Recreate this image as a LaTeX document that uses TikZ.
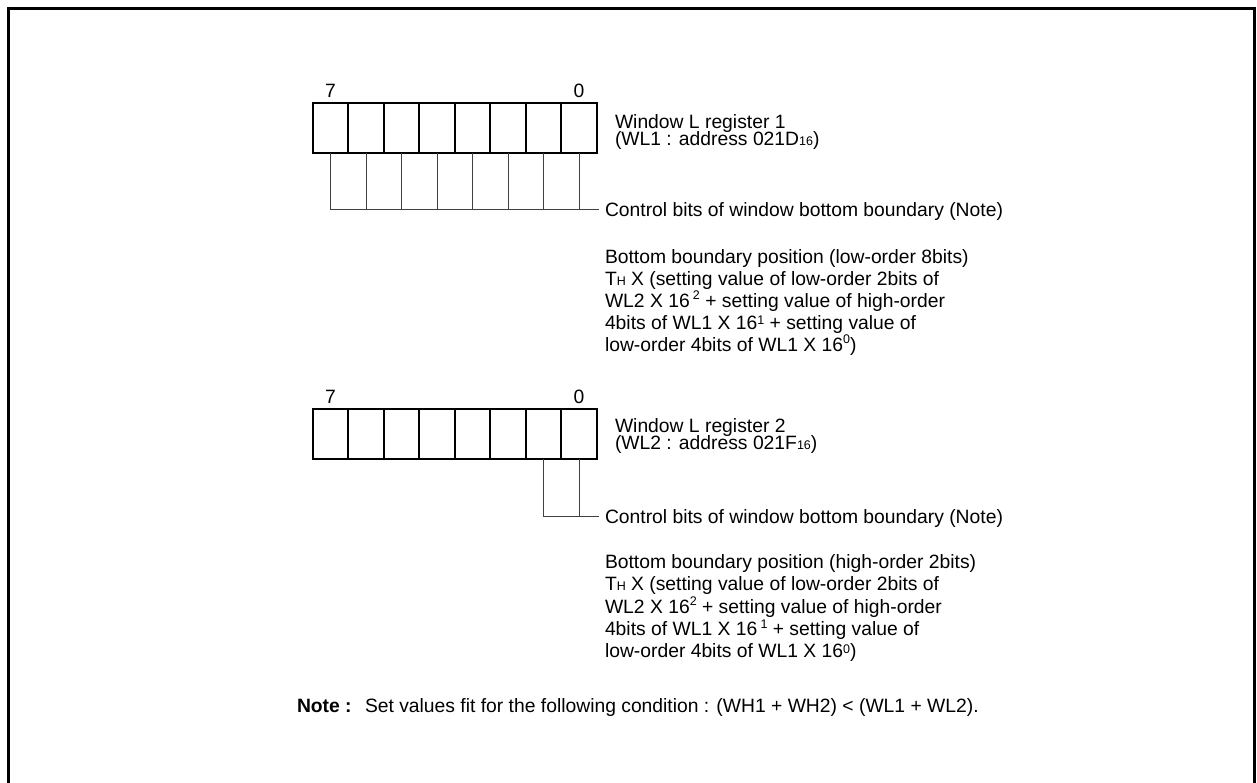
\documentclass[tikz,border=0pt]{standalone}
\usepackage{fontspec}
\setmainfont{Liberation Sans}
\newcommand\smtxt[1]{{\fontsize{12.5}{13}\selectfont #1}}
\newcommand\hisup[1]{\raisebox{7.5pt}{\smtxt{#1}}}
\newcommand\losup[1]{\raisebox{4.5pt}{\smtxt{#1}}}
\newcommand\Thsub{T\smtxt{H}}
\newcommand\mulx{X}
\begin{document}
\begin{tikzpicture}[x=1pt,y=-1pt,
  txt/.style={inner sep=0pt, outer sep=0pt, anchor=base west, font=\fontsize{19.3}{22}\selectfont},
  bitlbl/.style={txt, anchor=base},
  cell/.style={draw, line width=2pt, minimum width=35.5pt, minimum height=50pt, inner sep=0pt, outer sep=0pt},
  lead/.style={line width=0.9pt, draw=black!75},
  frame/.style={line width=3pt}]
\useasboundingbox (0,0) rectangle (1257,782);
% frame (open at bottom)
\draw[frame] (8,800) -- (8,8) -- (1254,8) -- (1254,800);

% ---- register 1 ----
\foreach \i in {0,...,7}
  \node[cell] (ra\i) at ({330.45+35.5*\i},128) {};
\node[bitlbl] (ra7lbl) at (ra0.north |- 0,97.5) {7};
\node[bitlbl] (ra0lbl) at (ra7.north |- 0,97.5) {0};
\node[txt] (wl1a) at (615,128.3) {Window L register 1};
\node[txt] (wl1b) at (615,145.3) {(WL1 : address 021D\smtxt{16})};
\coordinate (ca) at (599,209.5);
\foreach \i in {0,...,7}
  \draw[lead] (ra\i.south) -- (ra\i.south |- ca);
\draw[lead] (ra0.south |- ca) -- (ca);
\node[txt] (ctla) at (605,216.5) {Control bits of window bottom boundary (Note)};

\node[txt] (b1l1) at (605,263.3) {Bottom boundary position (low-order 8bits)};
\node[txt] (b1l2) at (605,285.3) {\Thsub\ \mulx\ (setting value of low-order 2bits of};
\node[txt] (b1l3) at (605,307.3) {WL2 \mulx\ 16\,\hisup{2} + setting value of high-order};
\node[txt] (b1l4) at (605,329.3) {4bits of WL1 \mulx\ 16\losup{1} + setting value of};
\node[txt] (b1l5) at (605,351.3) {low-order 4bits of WL1 \mulx\ 16\hisup{0})};

% ---- register 2 ----
\foreach \i in {0,...,7}
  \node[cell] (rb\i) at ({330.45+35.5*\i},434) {};
\node[bitlbl] (rb7lbl) at (rb0.north |- 0,403.5) {7};
\node[bitlbl] (rb0lbl) at (rb7.north |- 0,403.5) {0};
\node[txt] (wl2a) at (615,432.7) {Window L register 2};
\node[txt] (wl2b) at (615,449.7) {(WL2 : address 021F\smtxt{16})};
\coordinate (cb) at (599,516);
\draw[lead] (rb6.south) -- (rb6.south |- cb);
\draw[lead] (rb7.south) -- (rb7.south |- cb);
\draw[lead] (rb6.south |- cb) -- (cb);
\node[txt] (ctlb) at (605,523) {Control bits of window bottom boundary (Note)};

\node[txt] (b2l1) at (605,568.3) {Bottom boundary position (high-order 2bits)};
\node[txt] (b2l2) at (605,590.7) {\Thsub\ \mulx\ (setting value of low-order 2bits of};
\node[txt] (b2l3) at (605,613.1) {WL2 \mulx\ 16\hisup{2} + setting value of high-order};
\node[txt] (b2l4) at (605,635.5) {4bits of WL1 \mulx\ 16\,\hisup{1} + setting value of};
\node[txt] (b2l5) at (605,657.9) {low-order 4bits of WL1 \mulx\ 16\losup{0})};

% ---- note ----
\node[txt] (notehd) at (297,712) {\textbf{Note :}};
\node[txt] (notetx) at (365,712) {Set values fit for the following condition : (WH1 + WH2) < (WL1 + WL2).};
\end{tikzpicture}
\end{document}
